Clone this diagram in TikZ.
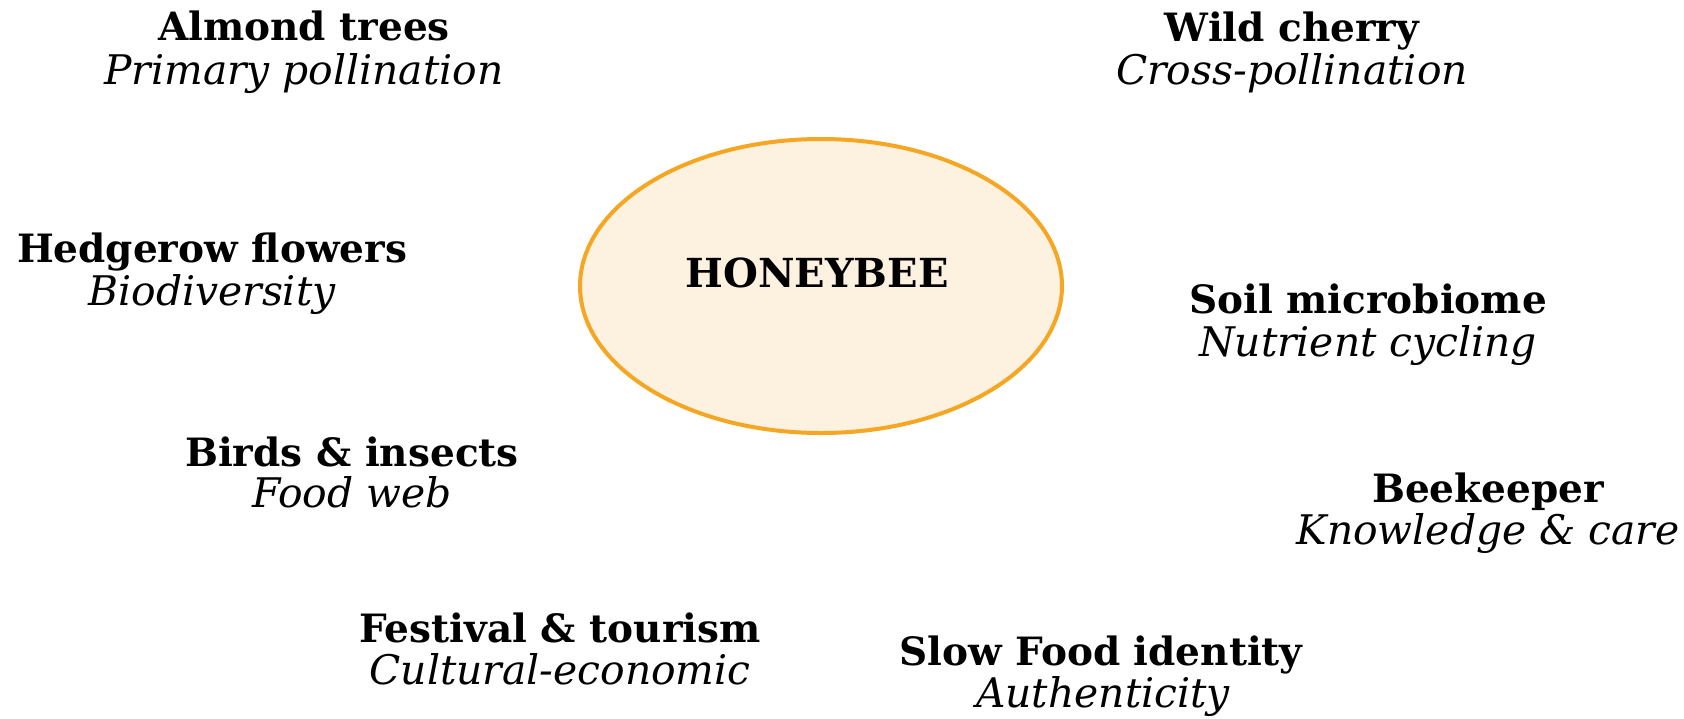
\documentclass[tikz,border=0pt]{standalone}
\usepackage{fontspec}
\setmainfont{DejaVu Serif}
\usetikzlibrary{shapes.geometric}
\definecolor{beeorange}{HTML}{F5A623}
\definecolor{beefill}{HTML}{FDF1E0}
\tikzset{
  head/.style={anchor=base, inner sep=0pt, font=\fontsize{19.5}{22}\selectfont\bfseries},
  sub/.style={anchor=base, inner sep=0pt, font=\fontsize{20.4}{23}\selectfont\itshape},
  hub/.style={ellipse, draw=beeorange, fill=beefill, line width=2pt, minimum width=241pt, minimum height=147pt, inner sep=0pt},
}
\begin{document}
\begin{tikzpicture}[x=0.5pt,y=-0.5pt]
\useasboundingbox (0,0) rectangle (1684,718);
\node[hub] (bee) at (821,286) {};
\node[head, font=\fontsize{20}{22}\selectfont\bfseries] (beet) at (817,287) {HONEYBEE};
\node[head] (a1) at (304,40) {Almond trees};
\node[sub]  (a2) at (304,84) {Primary pollination};
\node[head] (w1) at (1292,41) {Wild cherry};
\node[sub]  (w2) at (1292,84) {Cross-pollination};
\node[head] (h1) at (212,262) {Hedgerow flowers};
\node[sub]  (h2) at (212,305) {Biodiversity};
\node[head] (s1) at (1368,313) {Soil microbiome};
\node[sub]  (s2) at (1368,356) {Nutrient cycling};
\node[head] (b1) at (352,466) {Birds \& insects};
\node[sub]  (b2) at (352,507) {Food web};
\node[head] (k1) at (1488,502) {Beekeeper};
\node[sub]  (k2) at (1488,544) {Knowledge \& care};
\node[head] (f1) at (560,642) {Festival \& tourism};
\node[sub]  (f2) at (560,684) {Cultural-economic};
\node[head] (sf1) at (1101,665) {Slow Food identity};
\node[sub]  (sf2) at (1103,707) {Authenticity};
\end{tikzpicture}
\end{document}
